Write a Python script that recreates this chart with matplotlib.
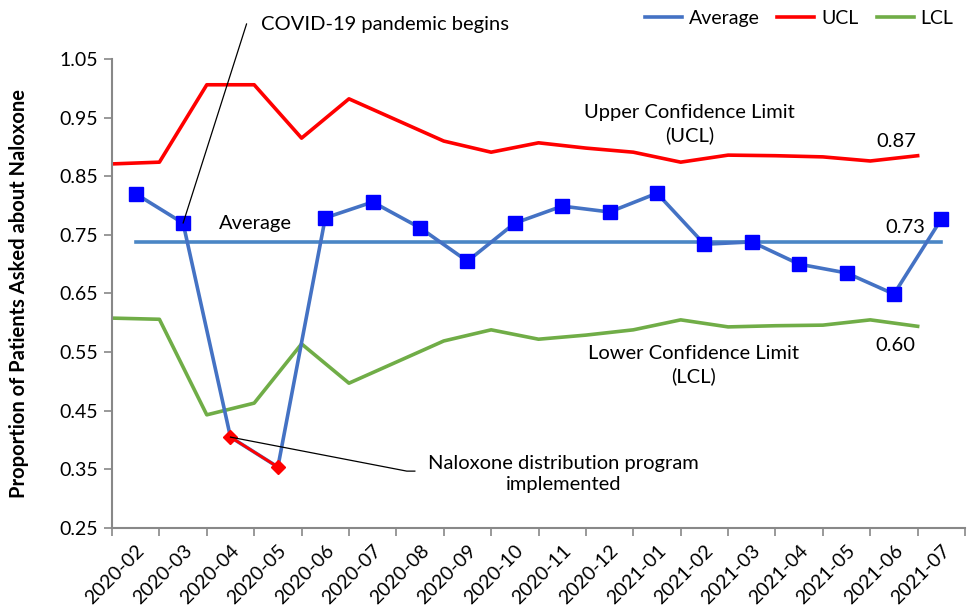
import matplotlib
matplotlib.use("Agg")
import matplotlib.pyplot as plt
import numpy as np
from matplotlib.lines import Line2D

plt.rcParams['font.family'] = ['Lato', 'DejaVu Sans']

months = ["2020-02", "2020-03", "2020-04", "2020-05", "2020-06", "2020-07", "2020-08",
          "2020-09", "2020-10", "2020-11", "2020-12", "2021-01", "2021-02", "2021-03",
          "2021-04", "2021-05", "2021-06", "2021-07"]
proportion = [0.820, 0.770, 0.405, 0.354, 0.779, 0.806, 0.762, 0.705, 0.770, 0.799,
              0.789, 0.821, 0.734, 0.738, 0.700, 0.685, 0.649, 0.777]
average = 0.738
ucl = [0.871, 0.874, 1.006, 1.006, 0.915, 0.982, 0.946, 0.910, 0.891, 0.907,
       0.898, 0.891, 0.874, 0.886, 0.885, 0.883, 0.876, 0.885]
lcl = [0.608, 0.606, 0.443, 0.463, 0.564, 0.497, 0.533, 0.569, 0.588, 0.572,
       0.579, 0.588, 0.605, 0.593, 0.595, 0.596, 0.605, 0.594]
highlight_months = ["2020-04", "2020-05"]
y_ticks = [0.25, 0.35, 0.45, 0.55, 0.65, 0.75, 0.85, 0.95, 1.05]

x = np.arange(len(months))
x_edges = x - 0.5  # limits series drawn at category boundaries

fig = plt.figure(figsize=(9.74, 6.08), dpi=100)
ax = fig.add_axes([0.115, 0.1316, 0.8758, 0.7714])

data_col = '#4472C4'
avg_col = '#4A86C5'
ucl_col = '#FF0000'
lcl_col = '#70AD47'

hi_idx = [months.index(m) for m in highlight_months]
normal_idx = [i for i in range(len(months)) if i not in hi_idx]

ax.plot(x_edges, ucl, color=ucl_col, lw=2.6, zorder=2)
ax.plot(x_edges, lcl, color=lcl_col, lw=2.6, zorder=2)
ax.plot([x[0], x[-1]], [average, average], color=avg_col, lw=2.6, zorder=2)
ax.plot(x, proportion, color=data_col, lw=2.6, marker='s', markersize=10,
        markevery=normal_idx,
        markerfacecolor='#0000FF', markeredgecolor='#0000FF', zorder=3)
ax.plot(x[hi_idx], [proportion[i] for i in hi_idx], color=ucl_col, lw=2.0,
        marker='D', markersize=7, markerfacecolor=ucl_col, markeredgecolor=ucl_col, zorder=4)

handles = [Line2D([], [], color=data_col, lw=2.6),
           Line2D([], [], color=ucl_col, lw=2.6),
           Line2D([], [], color=lcl_col, lw=2.6)]
fig.legend(handles, ['Average', 'UCL', 'LCL'], loc='upper right', bbox_to_anchor=(0.997, 1.012),
           ncol=3, frameon=False, fontsize=14, handlelength=1.9, columnspacing=0.93,
           handletextpad=0.36)

ax.set_xlim(-0.5, len(months) - 0.5)
ax.set_ylim(0.25, 1.05)
ax.set_yticks(y_ticks)
ax.set_yticklabels([f"{v:.2f}" for v in y_ticks], fontsize=14)
ax.set_xticks(x)
ax.set_xticklabels(months, rotation=45, ha='right', rotation_mode='anchor', fontsize=14)
ax.set_xticks(x_edges.tolist() + [x[-1] + 0.5], minor=True)
ax.tick_params(axis='x', which='major', length=0, pad=10)
ax.tick_params(axis='x', which='minor', length=6, color='#888888', width=1.2)
ax.tick_params(axis='y', length=6, color='#888888', width=1.2, pad=4)
for s in ['top', 'right']:
    ax.spines[s].set_visible(False)
for s in ['left', 'bottom']:
    ax.spines[s].set_color('#888888')
    ax.spines[s].set_linewidth(1.5)

ax.set_ylabel('Proportion of Patients Asked about Naloxone', fontsize=14.5, fontweight='bold',
              labelpad=22)

# annotations
ax.annotate('', xy=(1, proportion[1]), xytext=(2.34, 1.11),
            arrowprops=dict(arrowstyle='-', lw=0.9, color='black', shrinkA=0, shrinkB=0),
            annotation_clip=False)
ax.text(2.65, 1.108, 'COVID-19 pandemic begins', fontsize=14.5, ha='left', va='center', clip_on=False)

ax.plot([2, 5.72, 5.89], [proportion[2], 0.347, 0.347], color='black', lw=0.9, zorder=5)
ax.text(9.02, 0.342, 'Naloxone distribution program\nimplemented', fontsize=14.5,
        ha='center', va='center', linespacing=1.3)

ax.text(2.52, 0.769, 'Average', fontsize=14.5, ha='center', va='center')
ax.text(11.69, 0.939, 'Upper Confidence Limit\n(UCL)', fontsize=14.5, ha='center', va='center',
        linespacing=1.3)
ax.text(16.04, 0.910, '0.87', fontsize=14.5, ha='center', va='center')
ax.text(16.23, 0.762, '0.73', fontsize=14.5, ha='center', va='center')
ax.text(11.76, 0.528, 'Lower Confidence Limit\n(LCL)', fontsize=14.5, ha='center', va='center',
        linespacing=1.3)
ax.text(16.04, 0.562, '0.60', fontsize=14.5, ha='center', va='center')

fig.savefig('out.png', dpi=100)
